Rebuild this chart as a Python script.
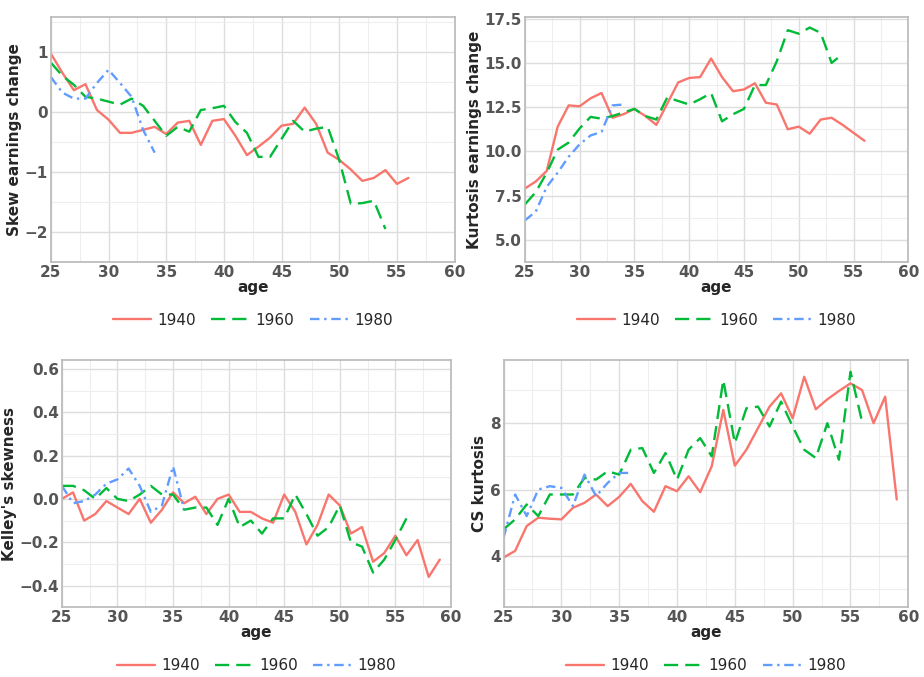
import numpy as np, pandas as pd, matplotlib
matplotlib.use("Agg")
import matplotlib.pyplot as plt, seaborn as sns

skew_1940=[0.97,0.65,0.36,0.46,0.03,-0.13,-0.35,-0.35,-0.3,-0.25,-0.37,-0.18,-0.15,-0.55,-0.15,-0.12,-0.4,-0.72,-0.58,-0.43,-0.23,-0.2,0.07,-0.2,-0.68,-0.8,-0.96,-1.15,-1.1,-0.97,-1.2,-1.1]
skew_1960=[0.82,0.6,0.45,0.25,0.22,0.17,0.12,0.22,0.1,-0.15,-0.4,-0.25,-0.33,0.03,0.06,0.1,-0.17,-0.35,-0.75,-0.75,-0.45,-0.15,-0.33,-0.28,-0.25,-0.8,-1.53,-1.52,-1.48,-1.95]
skew_1980=[0.58,0.32,0.22,0.22,0.48,0.7,0.48,0.25,-0.3,-0.68]
kurt_1940=[7.9,8.3,8.9,11.4,12.6,12.55,13.0,13.3,11.9,12.1,12.4,12.0,11.5,12.7,13.9,14.15,14.2,15.25,14.2,13.4,13.5,13.85,12.75,12.65,11.25,11.4,11.0,11.8,11.9,11.5,11.05,10.6]
kurt_1960=[7.0,7.7,8.8,10.1,10.5,11.3,11.95,11.85,12.0,12.2,12.4,12.0,11.8,13.05,12.85,12.65,12.95,13.3,11.7,12.1,12.4,13.75,13.75,15.1,16.85,16.65,17.0,16.7,15.0,15.5]
kurt_1980=[6.1,6.6,8.0,8.8,9.7,10.4,10.9,11.1,12.6,12.65]
kel_1940=[0.0,0.03,-0.1,-0.07,-0.01,-0.04,-0.07,0.0,-0.11,-0.05,0.03,-0.02,0.01,-0.07,0.0,0.02,-0.06,-0.06,-0.09,-0.11,0.02,-0.06,-0.21,-0.12,0.02,-0.03,-0.16,-0.13,-0.29,-0.25,-0.17,-0.26,-0.19,-0.36,-0.28]
kel_1960=[0.06,0.06,0.04,0.0,0.05,0.0,-0.01,0.02,0.06,0.02,0.02,-0.05,-0.04,-0.04,-0.12,0.0,-0.13,-0.1,-0.16,-0.09,-0.09,0.02,-0.07,-0.17,-0.13,-0.03,-0.2,-0.22,-0.34,-0.28,-0.19,-0.09]
kel_1980=[0.06,-0.02,-0.01,0.02,0.07,0.09,0.14,0.06,-0.06,-0.03,0.15,-0.05]
cs_1940=[3.95,4.15,4.9,5.15,5.12,5.1,5.45,5.6,5.85,5.5,5.78,6.17,5.65,5.33,6.1,5.95,6.4,5.92,6.7,8.4,6.72,7.2,7.85,8.5,8.9,8.15,9.4,8.42,8.72,8.97,9.2,9.0,8.0,8.8,5.7]
cs_1960=[4.8,5.1,5.55,5.2,5.85,5.85,5.85,6.35,6.3,6.55,6.45,7.2,7.25,6.5,7.1,6.3,7.2,7.55,7.0,9.3,7.4,8.45,8.5,7.9,8.65,7.9,7.2,6.95,8.0,6.9,9.55,8.05]
cs_1980=[4.55,5.85,5.2,6.0,6.1,6.05,5.5,6.45,5.8,6.2,6.5,6.5]
cohorts=["1940","1960","1980"]
start_age=25

panels=[("Skew earnings change",[skew_1940,skew_1960,skew_1980],(-2.1,1.58),[-2,-1,0,1]),
        ("Kurtosis earnings change",[kurt_1940,kurt_1960,kurt_1980],(3.9,17.6),[5.0,7.5,10.0,12.5,15.0,17.5]),
        ("Kelley's skewness",[kel_1940,kel_1960,kel_1980],(-0.405,0.64),[-0.4,-0.2,0.0,0.2,0.4,0.6]),
        ("CS kurtosis",[cs_1940,cs_1960,cs_1980],(2.45,9.9),[4,6,8])]
colors={"1940":"#F8766D","1960":"#00BA38","1980":"#619CFF"}
dashes={"1940":"","1960":(6,3),"1980":(4,2,1,2)}

sns.set_theme(style="whitegrid")
fig=plt.figure(figsize=(9.24,6.77),dpi=100)
rects=[(0.055,0.613,0.437,0.362),(0.568,0.613,0.415,0.362),(0.067,0.103,0.421,0.365),(0.545,0.103,0.438,0.365)]
for (lab,series,yl,yt),r in zip(panels,rects):
    ax=fig.add_axes(r)
    rows=[]
    for c,s in zip(cohorts,series):
        for i,v in enumerate(s):
            rows.append((start_age+i,v,c))
    df=pd.DataFrame(rows,columns=["age","val","cohort"])
    sns.lineplot(data=df,x="age",y="val",hue="cohort",style="cohort",palette=colors,dashes=dashes,lw=1.7,ax=ax,legend=True)
    ax.set_xlim(25,60); ax.set_ylim(*yl)
    ax.set_xticks(range(25,61,5)); ax.set_xticks(np.arange(27.5,60,5),minor=True)
    ax.set_yticks(yt)
    d=yt[1]-yt[0]; ax.set_yticks(np.arange(yt[0]-d/2,yl[1],d),minor=True)
    ax.grid(which="major",color="#DDDDDD",lw=1.0)
    ax.grid(which="minor",color="#EEEEEE",lw=0.8)
    for sp in ax.spines.values(): sp.set_color("#BBBBBB")
    ax.tick_params(labelsize=11,colors="#555555",length=0,pad=2)
    for t in ax.get_xticklabels()+ax.get_yticklabels(): t.set_fontweight("bold")
    if lab=="Kurtosis earnings change":
        ax.set_yticklabels([f"{v:.1f}" for v in yt],fontweight="bold")
    ax.set_xlabel("age",fontsize=11,fontweight="bold",labelpad=0)
    ax.set_ylabel(lab,fontsize=11,fontweight="bold",labelpad=2)
    h,l=ax.get_legend_handles_labels()
    ax.legend(h,l,loc="upper center",bbox_to_anchor=(0.5,-0.15),ncol=3,frameon=False,fontsize=11,handlelength=2.5,columnspacing=1.0,handletextpad=0.4)
fig.savefig("out.png",dpi=100)
